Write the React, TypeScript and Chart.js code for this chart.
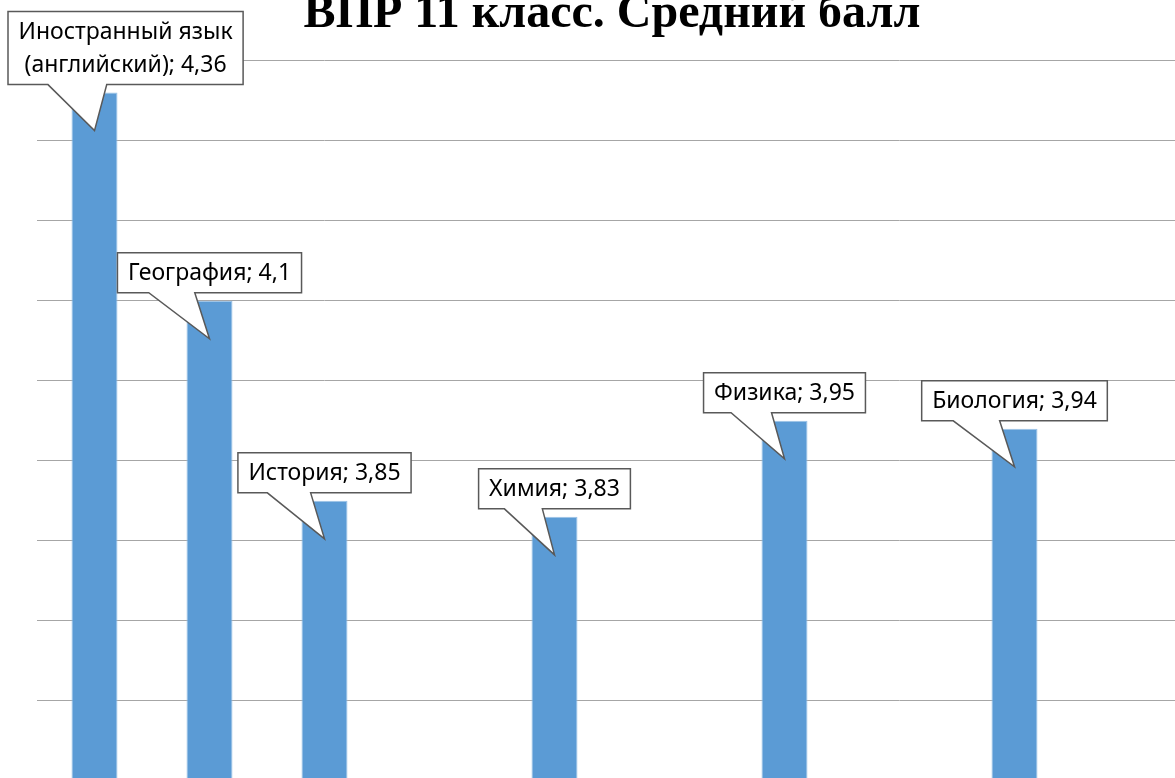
import { useEffect, useRef } from "react";
import { Chart, registerables } from "chart.js";

Chart.register(...registerables);

const TITLE = "ВПР 11 класс. Средний балл";
const categories = [
  "Иностранный язык (английский)",
  "География",
  "История",
  "",
  "Химия",
  "",
  "Физика",
  "",
  "Биология",
  "",
];
const values: (number | null)[] = [4.36, 4.1, 3.85, null, 3.83, null, 3.95, null, 3.94, null];
const Y_MIN = 3.5;
const Y_MAX = 4.4;
const Y_STEP = 0.1;

const LABEL_FONT = '23px "Noto Sans"';

function wrap(ctx: CanvasRenderingContext2D, text: string, maxW: number): string[] {
  const words = text.split(" ");
  const lines: string[] = [];
  let cur = "";
  for (const w of words) {
    const t = cur ? cur + " " + w : w;
    if (ctx.measureText(t).width > maxW && cur) {
      lines.push(cur);
      cur = w;
    } else cur = t;
  }
  if (cur) lines.push(cur);
  return lines;
}

const calloutPlugin = {
  id: "callouts",
  afterDatasetsDraw(chart: any) {
    const ctx: CanvasRenderingContext2D = chart.ctx;
    const meta = chart.getDatasetMeta(0);
    ctx.save();
    ctx.font = LABEL_FONT;
    ctx.textBaseline = "middle";
    ctx.textAlign = "left";
    const lineH = 33;
    const padX = 10.5;
    const padY = 3.5;
    meta.data.forEach((bar: any, i: number) => {
      const v = values[i];
      if (v == null) return;
      const text = `${categories[i]}; ${String(v).replace(".", ",")}`;
      const lines = wrap(ctx, text, 225);
      const tw = Math.max(...lines.map((l) => ctx.measureText(l).width));
      const w = tw + 2 * padX;
      const h = lines.length * lineH + 2 * padY;
      let left = bar.x - w / 2;
      if (left < 8) left = 8;
      const bottom = bar.y - 8;
      const top = bottom - h;
      const tipX = bar.x;
      const tipY = bar.y + 38;
      const b1 = left + 0.17 * w;
      const b2 = left + 0.42 * w;
      ctx.beginPath();
      ctx.moveTo(left, top);
      ctx.lineTo(left + w, top);
      ctx.lineTo(left + w, bottom);
      ctx.lineTo(b2, bottom);
      ctx.lineTo(tipX, tipY);
      ctx.lineTo(b1, bottom);
      ctx.lineTo(left, bottom);
      ctx.closePath();
      ctx.fillStyle = "#ffffff";
      ctx.fill();
      ctx.lineWidth = 1.5;
      ctx.strokeStyle = "#595959";
      ctx.stroke();
      ctx.fillStyle = "#000000";
      lines.forEach((l, k) => {
        const lw = ctx.measureText(l).width;
        ctx.fillText(l, left + (w - lw) / 2, top + padY + lineH * (k + 0.5) + 1);
      });
    });
    ctx.restore();
  },
};

export default function App() {
  const ref = useRef<HTMLCanvasElement>(null);
  useEffect(() => {
    document.body.style.margin = "0";
    document.body.style.overflow = "hidden";
    const chart = new Chart(ref.current!, {
      type: "bar",
      data: {
        labels: categories,
        datasets: [
          {
            data: values,
            backgroundColor: "#5B9BD5",
            borderColor: "#9DC3E6",
            borderWidth: 1,
            barPercentage: 0.4,
            categoryPercentage: 1,
          },
        ],
      },
      options: {
        responsive: false,
        animation: false,
        devicePixelRatio: 1,
        layout: { padding: { left: 37, right: 13, bottom: 19, top: 0 } },
        plugins: {
          legend: { display: false },
          tooltip: { enabled: false },
          title: {
            display: true,
            text: TITLE,
            color: "#000000",
            font: { family: '"Liberation Serif"', size: 48, weight: "bold", lineHeight: 1.2 },
            padding: { top: 26, bottom: 17 },
          },
        },
        scales: {
          x: { display: false },
          y: {
            min: Y_MIN,
            max: Y_MAX,
            afterFit: (s: any) => {
              s.width = 0;
            },
            ticks: { display: false, stepSize: Y_STEP },
            border: { display: false },
            grid: { color: "#a6a6a6", lineWidth: 1, drawTicks: false },
          },
        },
      },
      plugins: [calloutPlugin],
    } as any);
    return () => chart.destroy();
  }, []);
  return (
    <div
      style={{
        position: "fixed",
        left: 0,
        top: 0,
        width: 1175,
        height: 778,
        overflow: "hidden",
        background: "#fff",
      }}
    >
      <canvas
        ref={ref}
        width={1200}
        height={840}
        style={{ position: "absolute", left: 0, top: -40, width: 1200, height: 840 }}
      />
    </div>
  );
}
